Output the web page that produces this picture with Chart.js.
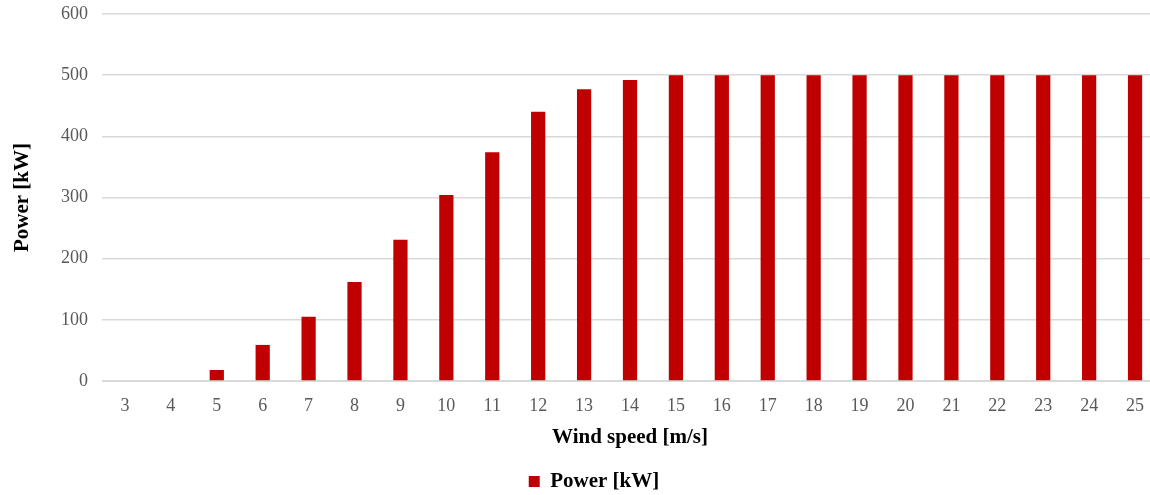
<!DOCTYPE html>
<html><head><meta charset="utf-8">
<script src="https://cdn.jsdelivr.net/npm/chart.js@4/dist/chart.umd.min.js"></script>
<style>html,body{margin:0;padding:0;overflow:hidden;background:#fff}#wrap{width:1188px;height:495px;position:relative}</style>
</head><body><div id="wrap"><canvas id="c"></canvas></div>
<script>
const windSpeeds = ['3','4','5','6','7','8','9','10','11','12','13','14','15','16','17','18','19','20','21','22','23','24','25'];
const powerKW = [0,0,18,59,105,162,231,304,374,440,477,492,500,500,500,500,500,500,500,500,500,500,500];
const yTicks = [0,100,200,300,400,500,600];

new Chart(document.getElementById('c'), {
  type: 'bar',
  data: { labels: windSpeeds, datasets: [{ label: 'Power [kW]', data: powerKW, backgroundColor: '#C00000', categoryPercentage: 1, barPercentage: 0.31 }] },
  options: {
    responsive: true, maintainAspectRatio: false, animation: false,
    layout: { padding: { top: 14, right: 30, left: 30, bottom: -7 } },
    plugins: {
      legend: { position: 'bottom', labels: { boxWidth: 11, boxHeight: 11, padding: 4, color: '#000', font: { family: 'Liberation Serif', size: 21, weight: 'bold' } } },
      tooltip: { enabled: false }
    },
    scales: {
      x: {
        grid: { display: false, drawTicks: false },
        border: { display: true, color: '#d9d9d9', width: 1 },
        ticks: { color: '#595959', padding: 14, font: { family: 'Liberation Serif', size: 18 } },
        title: { display: true, text: 'Wind speed [m/s]', color: '#000', padding: { top: 6, bottom: 17 }, font: { family: 'Liberation Serif', size: 21, weight: 'bold' } },
        afterFit: s => { s.height = 86; }
      },
      y: {
        min: 0, max: 600,
        afterBuildTicks: s => { s.ticks = yTicks.map(v => ({ value: v })); },
        grid: { color: '#d9d9d9', lineWidth: 1.5, drawTicks: false },
        border: { display: false },
        ticks: { color: '#595959', padding: 14, font: { family: 'Liberation Serif', size: 18 } },
        title: { display: true, text: 'Power [kW]', color: '#000', padding: { top: -20, bottom: 10 }, font: { family: 'Liberation Serif', size: 21, weight: 'bold' } },
        afterFit: s => { s.width = 72; s.paddingTop = 0; s.paddingBottom = 0; }
      }
    }
  }
});
</script></body></html>
